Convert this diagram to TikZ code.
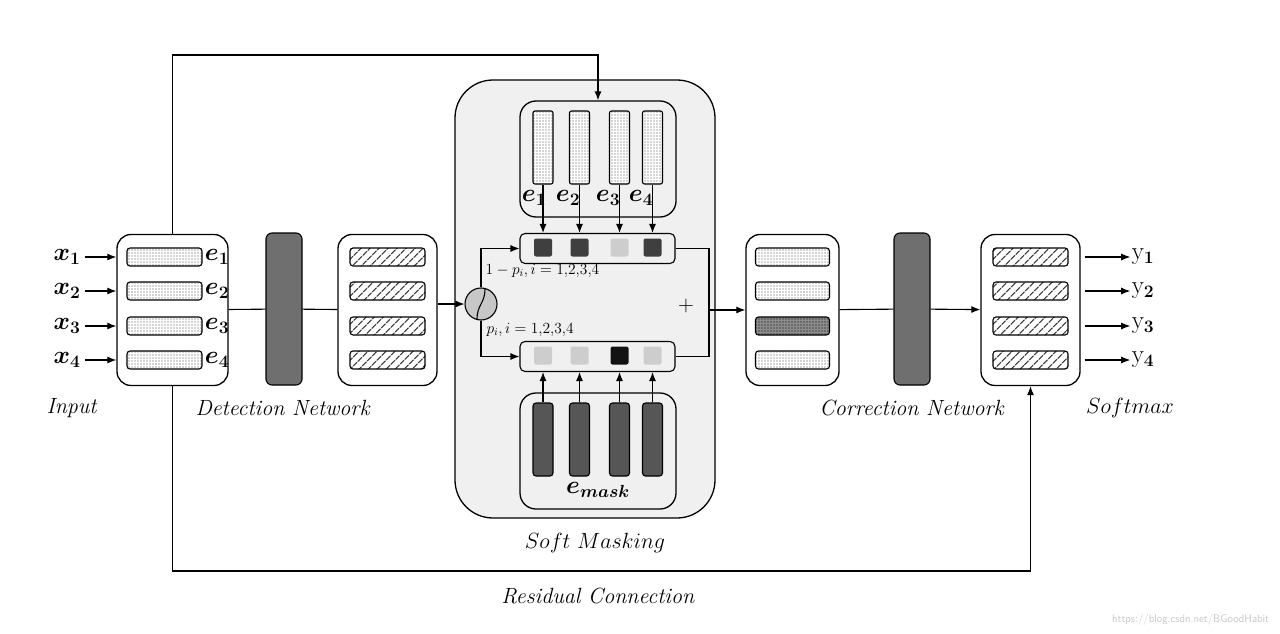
\RequirePackage{fix-cm}
\documentclass[tikz,border=0pt]{standalone}
\usepackage{fontspec}
\usepackage{bm}
\usetikzlibrary{patterns.meta, arrows.meta}

\definecolor{maskbg}{HTML}{F0F0F0}
\definecolor{netgray}{HTML}{6F6F6F}
\definecolor{maskgray}{HTML}{565656}
\definecolor{celldark}{HTML}{3F3F3F}
\definecolor{celllight}{HTML}{CDCDCD}
\definecolor{cellblack}{HTML}{121212}

\tikzset{
	box/.style={draw, rounded corners=14pt, line width=1.3pt, fill=white, inner sep=0pt},
	dotbar/.style={draw, rounded corners=3pt, line width=1.1pt, inner sep=0pt, minimum width=75pt, minimum height=18pt,
		preaction={fill=white}, pattern={Dots[radius=0.6pt, distance=3pt]}, pattern color=black!70},
	darkdotbar/.style={dotbar, preaction={fill=black!45}, pattern color=black},
	hatchbar/.style={draw, rounded corners=3pt, line width=1.1pt, inner sep=0pt, minimum width=75pt, minimum height=18pt,
		preaction={fill=white}, pattern={Lines[angle=45, distance=6.5pt, line width=1.2pt]}, pattern color=black!75},
	vdotbar/.style={dotbar, rounded corners=2pt, minimum width=20pt, minimum height=73pt},
	maskbar/.style={draw, fill=maskgray, rounded corners=3pt, inner sep=0pt, minimum width=20pt, minimum height=73pt},
	netbar/.style={draw, fill=netgray, rounded corners=6pt, inner sep=0pt, minimum width=36pt, minimum height=152pt},
	cellbox/.style={draw, rounded corners=5pt, inner sep=0pt, minimum width=155pt, minimum height=30pt},
	cell/.style={rounded corners=2pt, inner sep=0pt, minimum size=18pt},
	sigm/.style={circle, draw, fill=black!22, inner sep=0pt, minimum size=32pt},
	sym/.style={font=\fontsize{25}{28}\selectfont, inner sep=1pt},
	small/.style={font=\fontsize{15.5}{18}\selectfont, inner sep=0pt},
	arr/.style={-{Latex[length=9pt, width=7pt]}}
}

\begin{document}
\begin{tikzpicture}[x=1pt, y=-1pt, line width=1.1pt, font=\fontsize{22}{26}\selectfont]
		\fill[white] (0,0) rectangle (1280,634);

		% input and detection network
		\node[box, minimum width=111pt, minimum height=151pt] (inbox) at (172.5,310) {};
		\node[netbar] (detnet) at (284,309) {};
		\node[box, minimum width=99pt, minimum height=151pt] (detbox) at (387.5,310) {};
		\foreach \i/\y in {1/257, 2/291, 3/326, 4/360} {
			\node[dotbar] (in\i) at (164.5,\y) {};
			\node[sym] (e\i) at (217,\y) {$\bm{e_\i}$};
			\node[sym] (x\i) at (67,\y) {$\bm{x_\i}$};
			\node[hatchbar] (det\i) at (387.5,\y) {};
			\draw[arr] (x\i.east) ++(3,0) -- (x\i -| inbox.west);
		}
		\node (input) at (72,408) {\textit{Input}};
		\node (detlabel) at (283,408) {\textit{Detection Network}};

		% soft masking
		\node[box, fill=maskbg, rounded corners=38pt, minimum width=260pt, minimum height=438pt] (smask) at (585,299) {};
		\node[box, fill=maskbg, rounded corners=16pt, minimum width=156pt, minimum height=116pt] (embox) at (598,159) {};
		\node[box, fill=maskbg, rounded corners=16pt, minimum width=156pt, minimum height=116pt] (maskbox) at (598,451) {};
		\node[cellbox] (topmask) at (597.5,248.5) {};
		\node[cellbox] (botmask) at (597.5,356.5) {};
		\foreach \i/\x/\lx/\ct/\cb in {1/543/534/celldark/celllight, 2/579.5/568/celldark/celllight,
			3/619.5/608/celllight/cellblack, 4/652.5/641/celldark/celllight} {
			\node[vdotbar] (v\i) at (\x,147.5) {};
			\node[sym] (ve\i) at (\lx,198) {$\bm{e_\i}$};
			\node[cell, fill=\ct] (t\i) at (\x,247.5) {};
			\node[cell, fill=\cb] (b\i) at (\x,355.5) {};
			\node[maskbar] (m\i) at (\x,439.5) {};
			\draw[arr] (v\i.south) -- (v\i.south |- topmask.north);
			\draw[arr] (m\i.north) -- (m\i.north |- botmask.south);
		}
		\node[sym] (emask) at (598,490) {$\bm{e_{mask}}$};
		\node[sigm] (sig) at (481,304) {};
		\draw ([shift={(-4,15.5)}]sig.center) .. controls ([shift={(-4,0)}]sig.center) and ([shift={(4,0)}]sig.center) .. ([shift={(4,-15.5)}]sig.center);
		\draw[arr] (detbox.east |- sig.west) -- (sig.west);
		\draw[arr] (sig.north) |- (topmask.west);
		\draw[arr] (sig.south) |- (botmask.west);
		\node[small, anchor=west] (onemp) at (485,271) {$1-p_i, i=1{,}2{,}3{,}4$};
		\node[small, anchor=west] (pmask) at (486,330) {$p_i, i=1{,}2{,}3{,}4$};
		\node (plus) at (686,306) {$+$};
		\node (smlabel) at (595,543) {$Soft\ Masking$};

		% correction network and softmax
		\node[box, minimum width=93pt, minimum height=151pt] (corrbox) at (792.5,310) {};
		\node[netbar] (corrnet) at (912,309) {};
		\node[box, minimum width=99pt, minimum height=151pt] (smbox) at (1030.5,310) {};
		\foreach \i/\y/\s in {1/257/dotbar, 2/291/dotbar, 3/326/darkdotbar, 4/360/dotbar} {
			\node[\s, minimum width=74pt] (c\i) at (792.5,\y) {};
			\node[hatchbar] (s\i) at (1030.5,\y) {};
			\node[sym] (y\i) at (1143,\y) {$\mathrm{y}_{\bm{\i}}$};
			\draw[arr] ([xshift=4pt]smbox.east |- y\i) -- (y\i.west);
		}
		\node (corrlabel) at (912,408) {\textit{Correction Network}};
		\node (softmax) at (1130,408) {$Softmax$};

		\coordinate (merge) at (709,310);
		\draw (topmask.east) -| (merge);
		\draw (botmask.east) -| (merge);
		\draw[arr] (merge) -- (merge -| corrbox.west);

		\path (inbox) edge (detnet)
		(detnet) edge (detbox)
		(corrbox) edge (corrnet)
		(corrnet) edge[arr] (smbox);

		% skip and residual connections
		\coordinate (skipL) at (172.5,55);
		\coordinate (resL) at (172.5,571);
		\draw[arr] (inbox.north) -- (skipL) -| (embox.north);
		\draw[arr] (inbox.south) -- (resL) -| (smbox.south);
		\node (reslabel) at (598,596) {\textit{Residual Connection}};

		\node[anchor=east, text=black!22, font=\sffamily\fontsize{11}{13}\selectfont] (mark) at (1273,620) {https://blog.csdn.net/BGoodHabit};
	\end{tikzpicture}
\end{document}
